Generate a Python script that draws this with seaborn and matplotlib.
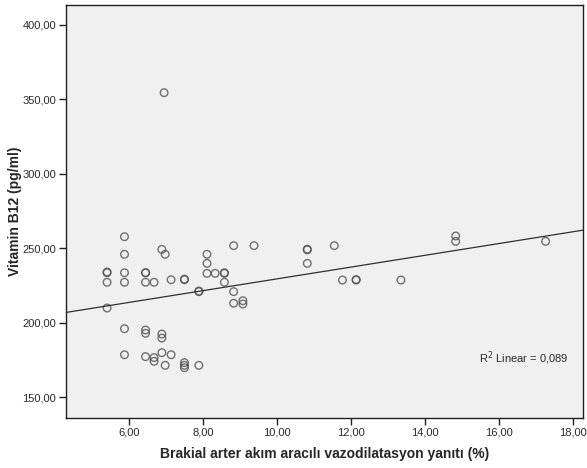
import matplotlib
matplotlib.use("Agg")
import matplotlib.pyplot as plt
import matplotlib.ticker as mticker
import seaborn as sns
import pandas as pd
import numpy as np

fmd = [5.41, 5.41, 5.41, 5.41,
       5.88, 5.88, 5.88, 5.88, 5.88, 5.88,
       6.45, 6.45, 6.45, 6.45, 6.45, 6.68,
       6.45, 6.68, 6.68,
       6.89, 6.98, 6.89, 6.89, 6.95,
       7.14, 7.50, 7.50, 7.89, 7.89,
       8.11, 8.11, 8.11, 8.33, 8.58, 8.58, 8.58,
       8.83, 9.38, 8.83, 8.83, 9.08, 9.08,
       6.89, 7.14, 6.98, 7.50, 7.50, 7.50, 7.89,
       10.82, 10.82, 10.82, 11.55, 11.77, 12.14, 12.14, 13.35,
       14.83, 14.83, 17.26]
b12 = [233.5, 234.0, 227.1, 209.8,
       257.7, 245.9, 233.5, 227.1, 195.9, 178.4,
       233.5, 227.1, 195.0, 192.8, 177.1, 227.1,
       233.5, 176.5, 174.0,
       249.2, 245.9, 192.3, 189.6, 354.5,
       228.8, 228.8, 229.2, 220.8, 221.2,
       245.9, 239.8, 233.1, 233.1, 233.1, 233.5, 227.1,
       251.7, 251.7, 220.8, 213.0, 214.7, 212.5,
       179.8, 178.4, 171.3, 173.1, 171.3, 169.7, 171.3,
       248.9, 249.3, 239.8, 251.7, 228.6, 228.6, 228.9, 228.6,
       258.2, 254.6, 254.6]

x_ticks = [6, 8, 10, 12, 14, 16, 18]
y_ticks = [150, 200, 250, 300, 350, 400]
x_label = "Brakial arter akım aracılı vazodilatasyon yanıtı (%)"
y_label = "Vitamin B12 (pg/ml)"
r2_text = "R$^2$ Linear = 0,089"

df = pd.DataFrame({"fmd": fmd, "b12": b12})

sns.set_theme(style="white")
plt.rcParams["font.family"] = ["Liberation Sans", "DejaVu Sans"]

fig = plt.figure(figsize=(5.87, 4.68), dpi=100)
ax = fig.add_axes([66/587, 1-417.7/468, (583-66)/587, (417.7-5)/468])
ax.set_facecolor("#f0f0f0")
ax.set_xlim(4.30, 18.27)
ax.set_ylim(136.1, 413.4)

sns.regplot(data=df, x="fmd", y="b12", ax=ax, ci=None, truncate=False,
            scatter_kws=dict(s=30, facecolors="none", edgecolors="#505050", linewidths=1.0),
            line_kws=dict(color="#303030", lw=0.9))

ax.set_xlim(4.30, 18.27)
ax.set_ylim(136.1, 413.4)
ax.set_xticks(x_ticks)
ax.set_yticks(y_ticks)
fmt = mticker.FuncFormatter(lambda v, p: f"{v:.2f}".replace(".", ","))
ax.xaxis.set_major_formatter(fmt)
ax.yaxis.set_major_formatter(fmt)
ax.tick_params(axis="both", which="major", length=5, width=1, color="#202020",
               labelsize=8, labelcolor="#2a2a2a", bottom=True, left=True, direction="out", pad=2)
for s in ax.spines.values():
    s.set_color("#202020")
    s.set_linewidth(1.0)

ax.set_xlabel(x_label, fontsize=10, fontweight="bold")
ax.set_ylabel(y_label, fontsize=10, fontweight="bold")
ax.yaxis.set_label_coords(-0.086, 0.5)
ax.xaxis.set_label_coords(0.5, -0.072)
ax.text(0.798, 0.135, r2_text, transform=ax.transAxes, fontsize=8, color="#2a2a2a")

fig.savefig("out.png", dpi=100, facecolor="white")
